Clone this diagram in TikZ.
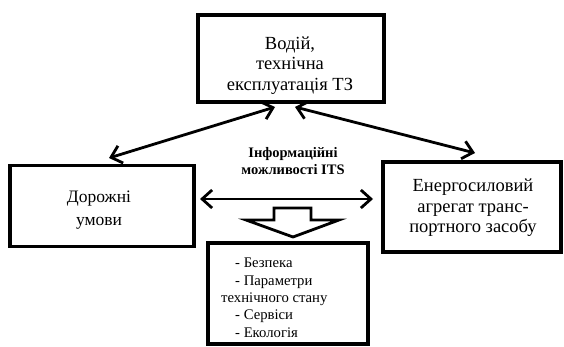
\documentclass[tikz,border=0pt]{standalone}
\usepackage{fontspec}
\setmainfont{Liberation Serif}
\usetikzlibrary{arrows.meta}
\begin{document}
\begin{tikzpicture}[x=1pt,y=-1pt,
  box/.style={draw, line width=3.5pt, inner sep=0pt},
  boxtext/.style={align=center, inner sep=0pt, font=\fontsize{18.5}{20.5}\selectfont},
  conn/.style={line width=2.8pt, {Straight Barb[length=10pt,width=18pt,line width=2.8pt]}-{Straight Barb[length=10pt,width=18pt,line width=2.8pt]}},
  blockarrow/.style={draw, line width=2.8pt, fill=white, line join=miter}]
\useasboundingbox (0,0) rectangle (564,347);
\node[box, minimum width=186pt, minimum height=87pt] (top) at (291,58.5) {};
\node[boxtext] (toptext) at (290,65.5) {Водій,\\технічна\\експлуатація ТЗ};
\node[box, minimum width=184pt, minimum height=81pt] (left) at (102,206) {};
\node[boxtext, font=\fontsize{17.5}{23.5}\selectfont] (lefttext) at (99,210) {Дорожні\\умови};
\node[box, minimum width=178pt, minimum height=90pt] (right) at (472,207) {};
\node[boxtext] (righttext) at (473,208) {Енергосиловий\\агрегат транс-\\портного засобу};
\node[box, minimum width=160pt, minimum height=101pt] (bottom) at (288,293.5) {};
\node[anchor=north west, inner sep=0pt, align=left, font=\fontsize{14.7}{17.3}\selectfont] (list) at (221,258)
  {\hspace*{14pt}- Безпека\\\hspace*{14pt}- Параметри\\технічного стану\\\hspace*{14pt}- Сервіси\\\hspace*{14pt}- Екологія};
\node[align=center, inner sep=0pt, font=\bfseries\fontsize{14.5}{17}\selectfont] (its) at (293,161) {Інформаційні\\можливості ITS};
\coordinate (a1) at (275,107);
\coordinate (a2) at (109,158);
\coordinate (b1) at (295,107);
\coordinate (b2) at (475,153);
\coordinate (h1) at (200,199);
\coordinate (h2) at (373,199);
\draw[conn] (a1) -- (a2);
\draw[conn] (b1) -- (b2);
\draw[conn] (h1) -- (h2);
\coordinate (bt) at (293,237);
\draw[blockarrow] (274,208) -- (311,208) -- (311,220) -- (339,220) -- (bt) -- (246,220) -- (274,220) -- cycle;
\end{tikzpicture}
\end{document}
